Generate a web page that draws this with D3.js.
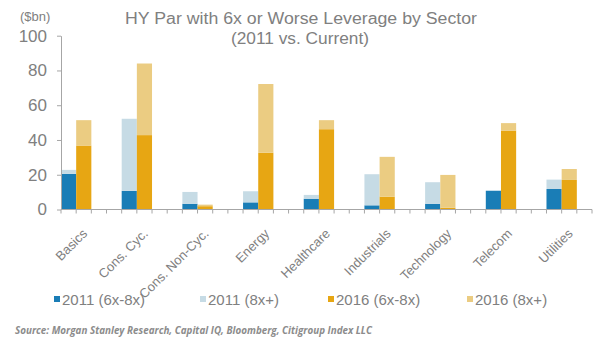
<!DOCTYPE html>
<html>
<head>
<meta charset="utf-8">
<title>HY Par with 6x or Worse Leverage by Sector</title>
<script src="https://cdn.jsdelivr.net/npm/d3@7"></script>
<style>
  body { margin: 0; background: #fff; }
  svg { display: block; font-family: "Liberation Sans", Arial, sans-serif; }
</style>
</head>
<body>
<div id="chart"></div>
<script>
// values, $bn
const sectors = ["Basics", "Cons. Cyc.", "Cons. Non-Cyc.", "Energy", "Healthcare",
                 "Industrials", "Technology", "Telecom", "Utilities"];
const y2011Low  = [20.5, 10.7, 3.3, 4.1, 6.2, 2.4, 3.3, 10.8, 11.8];   // 2011 (6x-8x)
const y2011High = [2.3, 41.5, 6.8, 6.4, 2.2, 17.9, 12.4, 0, 5.4];     // 2011 (8x+)
const y2016Low  = [36.8, 42.8, 1.9, 32.7, 46.2, 7.4, 1.0, 45.4, 17.0]; // 2016 (6x-8x)
const y2016High = [14.6, 41.2, 0.9, 39.5, 5.2, 22.9, 18.9, 4.3, 6.3];  // 2016 (8x+)
const seriesNames = ["2011 (6x-8x)", "2011 (8x+)", "2016 (6x-8x)", "2016 (8x+)"];
const yTicks = [0, 20, 40, 60, 80, 100];

const colors = ["#1a7db6", "#c6dbe5", "#e7a613", "#ebcc82"];
const textGray = "#808080";
const axisGray = "#a6a6a6";

const width = 600, height = 344;

const svg = d3.select("#chart").append("svg")
    .attr("width", width)
    .attr("height", height);

// each sector takes 4 slots (2011, 2016, two gaps), last one ends after 3
const nSlots = sectors.length * 4 - 1;
const x = d3.scaleBand()
    .domain(d3.range(nSlots))
    .range([61, 592])
    .padding(0);

const y = d3.scaleLinear()
    .domain([0, 100])
    .range([209.5, 35.7]);

// build stacked rects
const rects = [];
sectors.forEach((s, i) => {
  const pairs = [[y2011Low[i], y2011High[i], 0], [y2016Low[i], y2016High[i], 2]];
  pairs.forEach(([lo, hi, c], j) => {
    const slot = i * 4 + j;
    rects.push({slot, y0: 0, y1: lo, color: colors[c]});
    rects.push({slot, y0: lo, y1: lo + hi, color: colors[c + 1]});
  });
});

svg.append("g")
  .selectAll("rect")
  .data(rects.filter(d => d.y1 > d.y0))
  .join("rect")
    .attr("x", d => x(d.slot))
    .attr("width", x.bandwidth())
    .attr("y", d => y(d.y1))
    .attr("height", d => y(d.y0) - y(d.y1))
    .attr("fill", d => d.color);

// y axis
const yAxis = svg.append("g")
    .attr("transform", "translate(61,0)")
    .call(d3.axisLeft(y).tickValues(yTicks).tickSize(4).tickPadding(10).tickSizeOuter(0));
yAxis.select(".domain").attr("stroke", axisGray);
yAxis.selectAll(".tick line").attr("stroke", axisGray);
yAxis.selectAll(".tick text")
    .attr("fill", textGray)
    .style("font-size", "17px")
    .style("font-family", "Liberation Sans, Arial, sans-serif");

// x axis: ticks at every slot boundary
const g = svg.append("g");
g.append("line")
    .attr("x1", 61).attr("x2", 592)
    .attr("y1", y(0)).attr("y2", y(0))
    .attr("stroke", axisGray);
g.selectAll("line.tk")
  .data(d3.range(nSlots + 1))
  .join("line")
    .attr("class", "tk")
    .attr("x1", d => x.range()[0] + d * x.step())
    .attr("x2", d => x.range()[0] + d * x.step())
    .attr("y1", y(0)).attr("y2", y(0) + 4)
    .attr("stroke", axisGray);

// category labels, rotated
svg.append("g")
  .selectAll("text")
  .data(sectors)
  .join("text")
    .attr("transform", (d, i) => `translate(${x(i * 4 + 1) + 5},${y(0) + 18}) rotate(-45)`)
    .attr("text-anchor", "end")
    .attr("dy", "0.75em")
    .attr("fill", textGray)
    .style("font-size", "13px")
    .text(d => d);

// titles
svg.append("text")
    .attr("x", 301).attr("y", 23.5)
    .attr("text-anchor", "middle")
    .attr("fill", textGray)
    .attr("textLength", 352)
    .attr("lengthAdjust", "spacingAndGlyphs")
    .style("font-size", "16px")
    .text("HY Par with 6x or Worse Leverage by Sector");
svg.append("text")
    .attr("x", 300).attr("y", 43.5)
    .attr("text-anchor", "middle")
    .attr("fill", textGray)
    .attr("textLength", 138)
    .attr("lengthAdjust", "spacingAndGlyphs")
    .style("font-size", "16px")
    .text("(2011 vs. Current)");
svg.append("text")
    .attr("x", 20).attr("y", 21)
    .attr("fill", textGray)
    .style("font-size", "13px")
    .text("($bn)");

// legend
const legendX = [54, 200, 328, 467];
const legend = svg.append("g")
  .selectAll("g")
  .data(seriesNames)
  .join("g")
    .attr("transform", (d, i) => `translate(${legendX[i]},299)`);
legend.append("rect")
    .attr("x", 0).attr("y", -3)
    .attr("width", 6).attr("height", 6)
    .attr("fill", (d, i) => colors[i]);
legend.append("text")
    .attr("x", 8).attr("y", 5.5)
    .attr("fill", textGray)
    .style("font-size", "15px")
    .text(d => d);

// source
svg.append("text")
    .attr("x", 15).attr("y", 334)
    .attr("fill", "#8c8c8c")
    .attr("textLength", 357)
    .attr("lengthAdjust", "spacingAndGlyphs")
    .style("font-family", "'Open Sans', sans-serif")
    .style("font-weight", "bold")
    .style("font-style", "italic")
    .style("font-size", "10px")
    .text("Source: Morgan Stanley Research, Capital IQ, Bloomberg, Citigroup Index LLC");
</script>
</body>
</html>
